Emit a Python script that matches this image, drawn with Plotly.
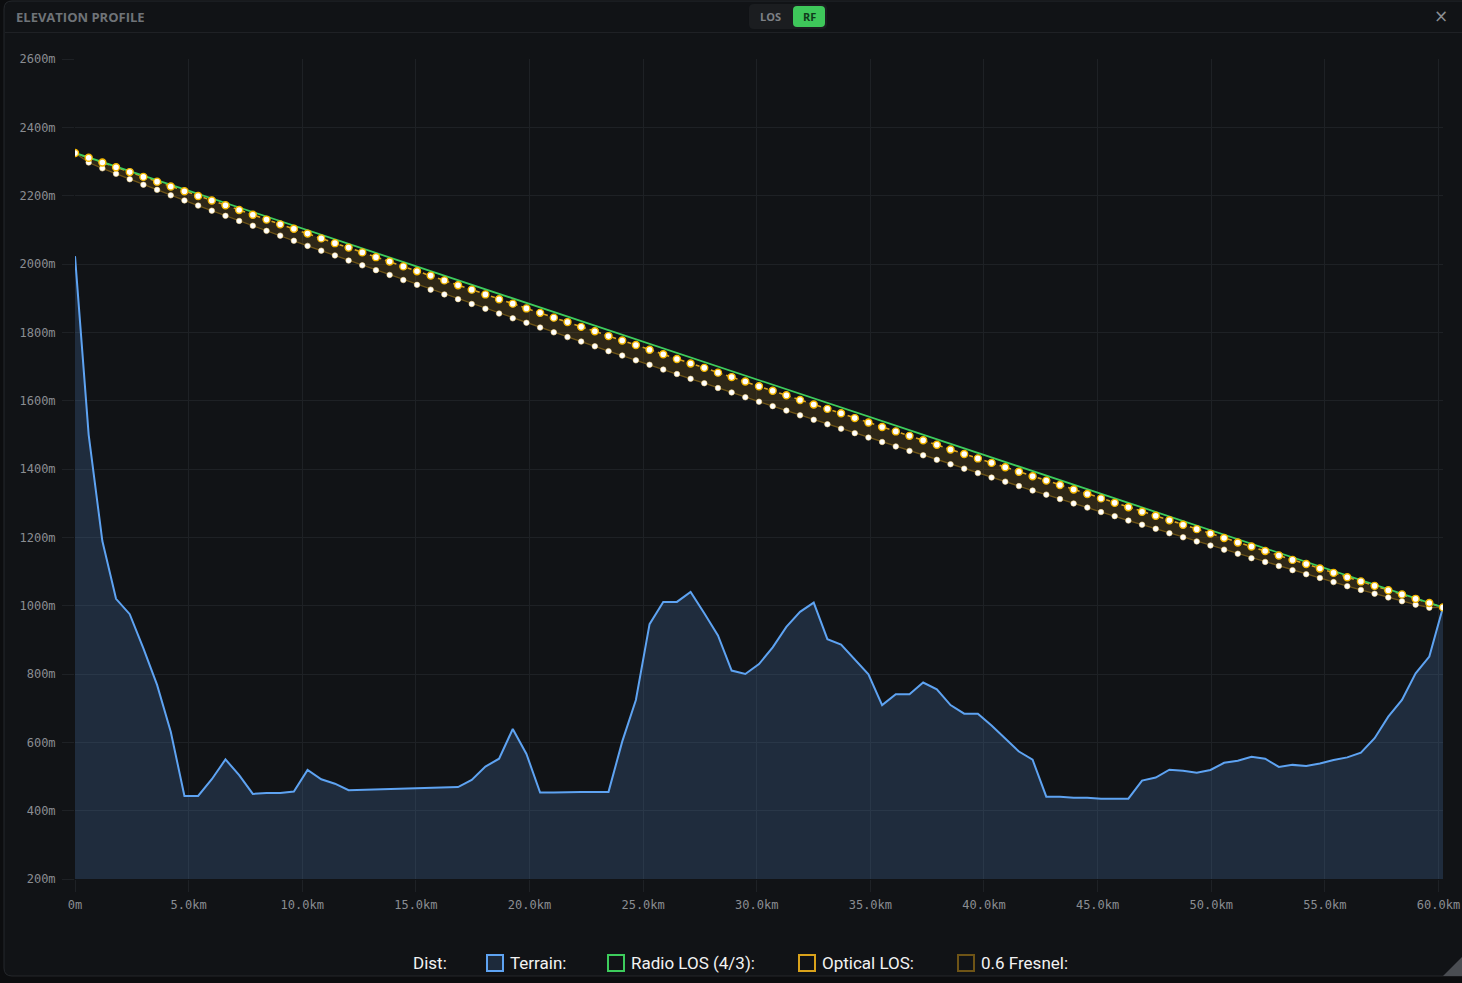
import plotly.graph_objects as go

# ---------------- data ----------------
DIST_KM = [
    0, 0.602, 1.204, 1.806, 2.408, 3.01, 3.612, 4.214, 4.816, 5.418,
    6.02, 6.622, 7.224, 7.826, 8.428, 9.03, 9.632, 10.234, 10.836, 11.438,
    12.04, 12.642, 13.244, 13.846, 14.448, 15.05, 15.652, 16.254, 16.856, 17.458,
    18.06, 18.662, 19.264, 19.866, 20.468, 21.07, 21.672, 22.274, 22.876, 23.478,
    24.08, 24.682, 25.284, 25.886, 26.488, 27.09, 27.692, 28.294, 28.896, 29.498,
    30.1, 30.702, 31.304, 31.906, 32.508, 33.11, 33.712, 34.314, 34.916, 35.518,
    36.12, 36.722, 37.324, 37.926, 38.528, 39.13, 39.732, 40.334, 40.936, 41.538,
    42.14, 42.742, 43.344, 43.946, 44.548, 45.15, 45.752, 46.354, 46.956, 47.558,
    48.16, 48.762, 49.364, 49.966, 50.568, 51.17, 51.772, 52.374, 52.976, 53.578,
    54.18, 54.782, 55.384, 55.986, 56.588, 57.19, 57.792, 58.394, 58.996, 59.598,
    60.2,
]

TERRAIN_M = [
    2023, 1500, 1189, 1020, 975, 875, 768, 631, 443, 443,
    492, 550, 504, 449, 452, 452, 456, 519, 492, 479,
    460, 461, 463, 463, 463, 466, 466, 466, 469, 490,
    529, 552, 639, 566, 453, 453, 455, 455, 455, 455,
    602, 724, 946, 1011, 1011, 1040, 978, 913, 810, 800,
    829, 878, 938, 982, 1009, 902, 886, 841, 799, 709,
    741, 741, 775, 755, 709, 684, 684, 649, 612, 573,
    549, 441, 441, 438, 438, 435, 435, 435, 488, 497,
    520, 517, 511, 519, 540, 546, 558, 552, 528, 534,
    531, 538, 548, 556, 570, 612, 675, 724, 802, 851,
    995,
]

OPTICAL_LOS_M = [
    2325, 2311, 2297, 2283, 2269, 2255, 2241, 2227, 2213, 2199,
    2186, 2172, 2158, 2144, 2130, 2116, 2103, 2089, 2075, 2061,
    2048, 2034, 2020, 2007, 1993, 1979, 1966, 1952, 1938, 1925,
    1911, 1897, 1884, 1870, 1857, 1843, 1830, 1816, 1803, 1789,
    1776, 1763, 1749, 1736, 1722, 1709, 1696, 1682, 1669, 1656,
    1642, 1629, 1616, 1602, 1589, 1576, 1563, 1549, 1536, 1523,
    1510, 1497, 1484, 1471, 1457, 1444, 1431, 1418, 1405, 1392,
    1379, 1366, 1353, 1340, 1327, 1314, 1301, 1288, 1275, 1263,
    1250, 1237, 1224, 1211, 1198, 1185, 1173, 1160, 1147, 1134,
    1122, 1109, 1096, 1083, 1071, 1058, 1045, 1033, 1020, 1008,
    995,
]

FRESNEL_LOW_M = [
    2325, 2297, 2280, 2264, 2248, 2232, 2217, 2201, 2186, 2171,
    2156, 2141, 2126, 2112, 2097, 2083, 2068, 2053, 2039, 2025,
    2010, 1996, 1982, 1968, 1953, 1939, 1925, 1911, 1897, 1883,
    1869, 1855, 1841, 1828, 1814, 1800, 1786, 1773, 1759, 1745,
    1732, 1718, 1705, 1691, 1678, 1664, 1651, 1637, 1624, 1610,
    1597, 1584, 1571, 1557, 1544, 1531, 1518, 1505, 1492, 1479,
    1466, 1453, 1440, 1427, 1414, 1401, 1388, 1375, 1363, 1350,
    1337, 1325, 1312, 1299, 1287, 1274, 1262, 1249, 1237, 1225,
    1212, 1200, 1188, 1176, 1164, 1152, 1139, 1128, 1116, 1104,
    1092, 1081, 1069, 1057, 1046, 1035, 1024, 1013, 1003, 994,
    995,
]

RADIO_LOS_DIST_KM = [0, 60.2]
RADIO_LOS_M = [2325, 995]

X_TICK_VALS = [0, 5, 10, 15, 20, 25, 30, 35, 40, 45, 50, 55, 60]
X_TICK_TEXT = ["0m", "5.0km", "10.0km", "15.0km", "20.0km", "25.0km", "30.0km",
               "35.0km", "40.0km", "45.0km", "50.0km", "55.0km", "60.0km"]
Y_TICK_VALS = [200, 400, 600, 800, 1000, 1200, 1400, 1600, 1800, 2000, 2200, 2400, 2600]
Y_TICK_TEXT = [f"{v}m" for v in Y_TICK_VALS]

LEGEND_ITEMS = ["Terrain:", "Radio LOS (4/3):", "Optical LOS:", "0.6 Fresnel:"]

# ---------------- layout helpers ----------------
FIG_W, FIG_H = 1462, 983
ML, MR, MT, MB = 75, 19, 59, 104
PW = FIG_W - ML - MR
PH = FIG_H - MT - MB


def px(x):
    return (x - ML) / PW


def py(y):
    return (FIG_H - MB - y) / PH


def rrect_path(x0, y0, x1, y1, r):
    pts = [
        ("M", x0 + r, y0), ("L", x1 - r, y0), ("Q", x1, y0, x1, y0 + r),
        ("L", x1, y1 - r), ("Q", x1, y1, x1 - r, y1), ("L", x0 + r, y1),
        ("Q", x0, y1, x0, y1 - r), ("L", x0, y0 + r), ("Q", x0, y0, x0 + r, y0),
    ]
    s = ""
    for p in pts:
        cmd = p[0]
        coords = p[1:]
        parts = []
        for i in range(0, len(coords), 2):
            parts.append(f"{px(coords[i]):.5f},{py(coords[i + 1]):.5f}")
        s += cmd + " " + " ".join(parts) + " "
    return s + "Z"


BG_OUT = "#0c0d0f"
PANEL = "#111316"
GRID = "#1e2125"
TICK_FONT = dict(family="DejaVu Sans Mono", size=12, color="#8a8d92")

TERRAIN_C = "#5ea3f2"
RADIO_C = "#3dcc5c"
OPTICAL_C = "#d9a21b"
FRESNEL_C = "#6e5416"

fig = go.Figure()

fig.add_trace(go.Scatter(
    x=DIST_KM, y=TERRAIN_M, mode="lines",
    line=dict(color=TERRAIN_C, width=2),
    fill="tozeroy", fillcolor="rgba(80,135,200,0.22)",
))
fig.add_trace(go.Scatter(
    x=DIST_KM, y=OPTICAL_LOS_M, mode="lines",
    line=dict(color=OPTICAL_C, width=1.6, dash="4px,4px"),
))
fig.add_trace(go.Scatter(
    x=DIST_KM, y=FRESNEL_LOW_M, mode="lines",
    line=dict(color=FRESNEL_C, width=1.3),
    fill="tonexty", fillcolor="rgba(200,150,30,0.16)",
))
fig.add_trace(go.Scatter(
    x=RADIO_LOS_DIST_KM, y=RADIO_LOS_M, mode="lines",
    line=dict(color=RADIO_C, width=1.8),
))
fig.add_trace(go.Scatter(
    x=DIST_KM, y=FRESNEL_LOW_M, mode="markers",
    marker=dict(size=5.5, color="#ffffff", line=dict(color="rgba(255,225,150,0.6)", width=1)),
))
fig.add_trace(go.Scatter(
    x=DIST_KM, y=OPTICAL_LOS_M, mode="markers",
    marker=dict(size=7, color="#ffffff", line=dict(color="#f5b800", width=1.4)),
))

shapes = []
shapes.append(dict(type="path", path=rrect_path(4, 1, FIG_W + 10, 976, 8),
                   xref="paper", yref="paper", fillcolor=PANEL,
                   line=dict(color="#25282c", width=1), layer="below"))
shapes.append(dict(type="line", x0=px(5), x1=px(FIG_W), y0=py(32.5), y1=py(32.5),
                   xref="paper", yref="paper", line=dict(color="#1f2125", width=1)))
shapes.append(dict(type="path", path=rrect_path(749, 4, 827, 29, 5),
                   xref="paper", yref="paper", fillcolor="#1b1d20",
                   line=dict(width=0)))
shapes.append(dict(type="path", path=rrect_path(793, 6, 825, 27, 4),
                   xref="paper", yref="paper", fillcolor="#3ec75a",
                   line=dict(width=0)))
shapes.append(dict(type="path",
                   path=f"M {px(1462):.5f},{py(957):.5f} L {px(1462):.5f},{py(976):.5f} L {px(1443):.5f},{py(976):.5f} Z",
                   xref="paper", yref="paper", fillcolor="#4a4d52", line=dict(width=0)))

legend_sq = [
    (487, TERRAIN_C, "#1d2a3b"),
    (608, RADIO_C, "rgba(0,0,0,0)"),
    (799, OPTICAL_C, "rgba(0,0,0,0)"),
    (958, FRESNEL_C, "rgba(0,0,0,0)"),
]
for x0, lc, fc in legend_sq:
    shapes.append(dict(type="rect", x0=px(x0), x1=px(x0 + 16), y0=py(955), y1=py(971),
                       xref="paper", yref="paper", fillcolor=fc,
                       line=dict(color=lc, width=2)))

annotations = []
annotations.append(dict(text="<b>ELEVATION PROFILE</b>", x=px(14), y=py(16.5),
                        xref="paper", yref="paper", xanchor="left", yanchor="middle",
                        showarrow=False,
                        font=dict(family="Open Sans", size=13, color="#6f7378")))
annotations.append(dict(text="<b>LOS</b>", x=px(770), y=py(17),
                        xref="paper", yref="paper", xanchor="center", yanchor="middle",
                        showarrow=False,
                        font=dict(family="Open Sans", size=11, color="#7d8085")))
annotations.append(dict(text="<b>RF</b>", x=px(809), y=py(17),
                        xref="paper", yref="paper", xanchor="center", yanchor="middle",
                        showarrow=False,
                        font=dict(family="Open Sans", size=11, color="#113a1c")))
annotations.append(dict(text="×", x=px(1441), y=py(16),
                        xref="paper", yref="paper", xanchor="center", yanchor="middle",
                        showarrow=False,
                        font=dict(family="DejaVu Sans", size=17, color="#8a8d92")))

LEG_FONT = dict(family="Roboto", size=17, color="#f2f2f2")
annotations.append(dict(text="Dist:", x=px(411), y=py(963), xref="paper", yref="paper",
                        xanchor="left", yanchor="middle", showarrow=False, font=LEG_FONT))
for (x0, _, _), label in zip(legend_sq, LEGEND_ITEMS):
    annotations.append(dict(text=label, x=px(x0 + 21), y=py(963), xref="paper", yref="paper",
                            xanchor="left", yanchor="middle", showarrow=False, font=LEG_FONT))

fig.update_layout(
    width=FIG_W, height=FIG_H, autosize=False,
    margin=dict(l=ML, r=MR, t=MT, b=MB, pad=0),
    paper_bgcolor=BG_OUT,
    plot_bgcolor="rgba(0,0,0,0)",
    showlegend=False,
    hovermode=False,
    shapes=shapes,
    annotations=annotations,
    xaxis=dict(
        range=[0, 60.2], tickvals=X_TICK_VALS, ticktext=X_TICK_TEXT,
        showgrid=True, gridcolor=GRID, gridwidth=1, zeroline=False, showline=False,
        ticks="outside", ticklen=12, tickcolor=GRID, tickwidth=1,
        tickfont=TICK_FONT, ticklabelstandoff=3, fixedrange=True, automargin=False,
    ),
    yaxis=dict(
        range=[200, 2600], tickvals=Y_TICK_VALS, ticktext=Y_TICK_TEXT,
        showgrid=True, gridcolor=GRID, gridwidth=1, zeroline=False, showline=False,
        ticks="outside", ticklen=12, tickcolor=GRID, tickwidth=1,
        tickfont=TICK_FONT, ticklabelstandoff=4, fixedrange=True, automargin=False,
    ),
)

fig.write_html("out.html", config={"responsive": False, "displayModeBar": False})
